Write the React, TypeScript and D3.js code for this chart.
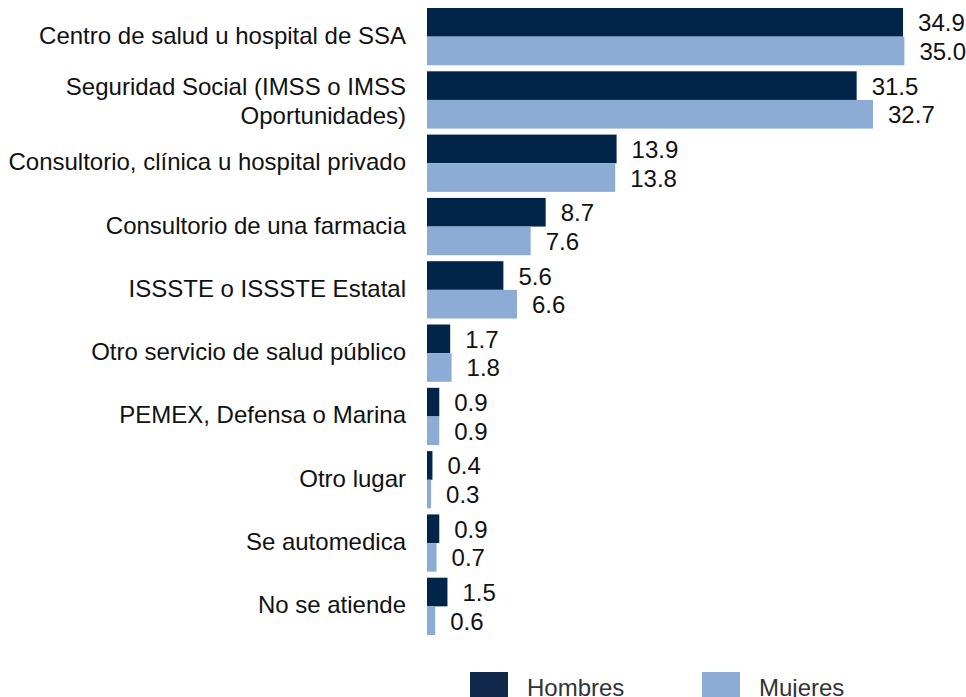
import React, { useEffect, useRef } from 'react';
import * as d3 from 'd3';

// Datos (porcentajes)
const categorias = [
  'Centro de salud u hospital de SSA',
  'Seguridad Social (IMSS o IMSS\nOportunidades)',
  'Consultorio, clínica u hospital privado',
  'Consultorio de una farmacia',
  'ISSSTE o ISSSTE Estatal',
  'Otro servicio de salud público',
  'PEMEX, Defensa o Marina',
  'Otro lugar',
  'Se automedica',
  'No se atiende',
];
const hombres = [34.9, 31.5, 13.9, 8.7, 5.6, 1.7, 0.9, 0.4, 0.9, 1.5];
const mujeres = [35.0, 32.7, 13.8, 7.6, 6.6, 1.8, 0.9, 0.3, 0.7, 0.6];
const series = ['Hombres', 'Mujeres'];
const colores = ['#002548', '#8cacd6'];

const App = () => {
  const chartRef = useRef<HTMLDivElement>(null);

  useEffect(() => {
    document.body.style.margin = '0';
    const width = 966;
    const height = 697;
    const font = 'Liberation Sans, Arial, sans-serif';

    const svg = d3.select(chartRef.current)
      .append('svg')
      .attr('width', width)
      .attr('height', height)
      .style('display', 'block')
      .style('font-family', font);

    // Escalas
    const xScale = d3.scaleLinear().domain([0, 35]).range([427, 904.4]);

    const yScale = d3.scaleBand<string>()
      .domain(categorias)
      .range([5, 638])
      .paddingInner(0.095)
      .paddingOuter(0.0475);

    const ySub = d3.scaleBand<string>()
      .domain(series)
      .range([0, yScale.bandwidth()]);

    const data = categorias.map((c, i) => ({ cat: c, values: [hombres[i], mujeres[i]] }));

    // Grupos
    const groups = svg.selectAll('.grupo')
      .data(data)
      .enter()
      .append('g')
      .attr('class', 'grupo')
      .attr('transform', d => `translate(0, ${yScale(d.cat)})`);

    groups.selectAll('rect')
      .data(d => d.values.map((v, j) => ({ serie: series[j], v, j })))
      .enter()
      .append('rect')
      .attr('x', xScale(0))
      .attr('y', d => ySub(d.serie)!)
      .attr('width', d => xScale(d.v) - xScale(0))
      .attr('height', ySub.bandwidth())
      .attr('fill', d => colores[d.j]);

    // Etiquetas de valores
    groups.selectAll('.valor')
      .data(d => d.values.map((v, j) => ({ serie: series[j], v })))
      .enter()
      .append('text')
      .attr('class', 'valor')
      .attr('x', d => xScale(d.v) + 15)
      .attr('y', d => ySub(d.serie)! + ySub.bandwidth() / 2)
      .attr('dy', 9)
      .attr('font-size', 24)
      .attr('fill', '#111')
      .text(d => d.v.toFixed(1));

    // Etiquetas de categorías
    groups.each(function (d) {
      const lines = d.cat.split('\n');
      const center = yScale.bandwidth() / 2;
      const lineH = 29;
      const first = center + 7 - ((lines.length - 1) * lineH) / 2 + (lines.length > 1 ? 3 : 0);
      const t = d3.select(this)
        .append('text')
        .attr('text-anchor', 'end')
        .attr('font-size', 24)
        .attr('fill', '#111');
      lines.forEach((l, k) => {
        t.append('tspan')
          .attr('x', 406)
          .attr('y', first + k * lineH)
          .text(l);
      });
    });

    // Leyenda
    const legendX = [470, 702];
    const legend = svg.selectAll('.leyenda')
      .data(series)
      .enter()
      .append('g')
      .attr('class', 'leyenda')
      .attr('transform', (d, i) => `translate(${legendX[i]}, 672)`);

    legend.append('rect')
      .attr('width', 38)
      .attr('height', 30)
      .attr('fill', (d, i) => (i === 0 ? '#12284b' : colores[1]));

    legend.append('text')
      .attr('x', 57)
      .attr('y', 23.5)
      .attr('font-size', 24)
      .attr('fill', '#333')
      .text(d => d);

    return () => {
      d3.select(chartRef.current).select('svg').remove();
    };
  }, []);

  return <div ref={chartRef}></div>;
};

export default App;
